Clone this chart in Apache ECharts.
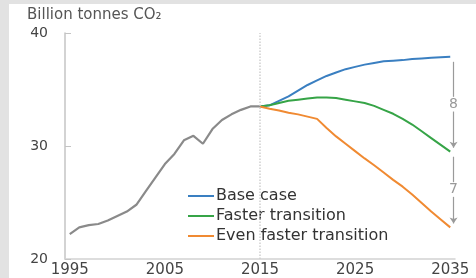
<!DOCTYPE html>
<html>
<head>
<meta charset="utf-8">
<script src="https://cdn.jsdelivr.net/npm/echarts@6/dist/echarts.min.js"></script>
<style>
  html, body { margin: 0; padding: 0; background: #e2e2e2; }
  #chart { position: absolute; left: 9px; top: 4px; width: 467px; height: 274px; background: #fff; }
</style>
</head>
<body>
<div id="chart"></div>
<script>
// Historical emissions 1995-2015 and three outlook scenarios 2015-2035
const histYears = [1995, 1996, 1997, 1998, 1999, 2000, 2001, 2002, 2003, 2004, 2005,
  2006, 2007, 2008, 2009, 2010, 2011, 2012, 2013, 2014, 2015];
const histValues = [22.2, 22.8, 23.0, 23.1, 23.4, 23.8, 24.2, 24.8, 26.0, 27.2, 28.4,
  29.3, 30.5, 30.9, 30.2, 31.5, 32.3, 32.8, 33.2, 33.5, 33.5];

const outlookYears = [2015, 2016, 2017, 2018, 2019, 2020, 2021, 2022, 2023, 2024, 2025,
  2026, 2027, 2028, 2029, 2030, 2031, 2032, 2033, 2034, 2035];
const baseCase = [33.5, 33.6, 34.0, 34.4, 34.9, 35.4, 35.8, 36.2, 36.5, 36.8, 37.0,
  37.2, 37.35, 37.5, 37.55, 37.6, 37.7, 37.75, 37.8, 37.85, 37.9];
const fasterTransition = [33.5, 33.6, 33.8, 34.0, 34.1, 34.2, 34.3, 34.3, 34.25, 34.1, 33.95,
  33.8, 33.55, 33.2, 32.85, 32.4, 31.9, 31.3, 30.7, 30.1, 29.5];
const evenFasterTransition = [33.5, 33.3, 33.15, 32.95, 32.8, 32.6, 32.4, 31.6, 30.85, 30.2, 29.55,
  28.9, 28.3, 27.65, 27.0, 26.4, 25.7, 24.95, 24.2, 23.5, 22.8];

const xLabelYears = [1995, 2005, 2015, 2025, 2035];
const seriesNames = ['Base case', 'Faster transition', 'Even faster transition'];

const FONT = 'DejaVu Sans';
const pairs = (xs, ys) => xs.map((x, i) => [x, ys[i]]);

// gap arrows at the right edge showing the scenario differences
const arrowX = 2035.35;
const endBase = baseCase[baseCase.length - 1];
const endFaster = fasterTransition[fasterTransition.length - 1];
const endEven = evenFasterTransition[evenFasterTransition.length - 1];
const gap = 0.65;

function gapLines(top, bottom) {
  const mid = (top + bottom) / 2;
  return [
    [{ coord: [arrowX, top - 0.45], symbol: 'none' }, { coord: [arrowX, mid + gap], symbol: 'none' }],
    [{ coord: [arrowX, mid - gap], symbol: 'none' }, { coord: [arrowX, bottom + 0.35], symbol: 'arrow' }],
  ];
}
function gapLabel(top, bottom) {
  return { coord: [arrowX, (top + bottom) / 2], value: Math.round(top - bottom) };
}

const chart = echarts.init(document.getElementById('chart'));

chart.setOption({
  animation: false,
  title: {
    text: 'Billion tonnes CO₂',
    left: 18,
    top: 4,
    padding: 0,
    textStyle: { fontFamily: FONT, fontSize: 15, fontWeight: 'normal', color: '#555' },
  },
  legend: {
    data: seriesNames,
    orient: 'vertical',
    left: 174,
    top: 179,
    itemWidth: 26,
    itemHeight: 2,
    itemGap: 4,
    icon: 'rect',
    textStyle: { fontFamily: FONT, fontSize: 16, color: '#333', padding: [0, 0, 0, -3] },
  },
  grid: { left: 56, right: 21, top: 29, bottom: 15, containLabel: false },
  xAxis: {
    type: 'value',
    min: 1994.5,
    max: 2035.5,
    axisLine: { lineStyle: { color: '#d2d2d2', width: 1.5 } },
    axisTick: { show: false },
    splitLine: { show: false },
    axisLabel: {
      customValues: xLabelYears,
      formatter: (v) => String(v),
      margin: 4,
      fontFamily: FONT,
      fontSize: 15,
      color: '#444',
    },
  },
  yAxis: {
    type: 'value',
    min: 20,
    max: 40,
    interval: 10,
    axisLine: { show: true, lineStyle: { color: '#c4c4c4', width: 1.5 } },
    axisTick: { show: true, inside: true, length: 6, lineStyle: { color: '#c4c4c4' } },
    splitLine: { show: false },
    axisLabel: { margin: 17, fontFamily: FONT, fontSize: 14, color: '#444' },
  },
  series: [
    {
      name: 'History',
      type: 'line',
      data: pairs(histYears, histValues),
      showSymbol: false,
      lineStyle: { color: '#8a8a8a', width: 2.2 },
      itemStyle: { color: '#8a8a8a' },
      z: 3,
      markLine: {
        silent: true,
        symbol: 'none',
        label: { show: false },
        lineStyle: { color: '#cfcfcf', type: 'dotted', width: 1.5 },
        data: [{ xAxis: 2015 }],
      },
    },
    {
      name: seriesNames[0],
      type: 'line',
      data: pairs(outlookYears, baseCase),
      showSymbol: false,
      lineStyle: { color: '#3a7fc1', width: 2 },
      itemStyle: { color: '#3a7fc1' },
      markLine: {
        silent: true,
        symbolSize: 6,
        label: { show: false },
        lineStyle: { color: '#9a9a9a', type: 'solid', width: 1.2 },
        data: gapLines(endBase, endFaster),
      },
      markPoint: {
        silent: true,
        symbol: 'circle',
        symbolSize: 0,
        label: { show: true, position: 'inside', fontFamily: FONT, fontSize: 14, color: '#999' },
        data: [gapLabel(endBase, endFaster)],
      },
    },
    {
      name: seriesNames[1],
      type: 'line',
      data: pairs(outlookYears, fasterTransition),
      showSymbol: false,
      lineStyle: { color: '#36a447', width: 2 },
      itemStyle: { color: '#36a447' },
      markLine: {
        silent: true,
        symbolSize: 6,
        label: { show: false },
        lineStyle: { color: '#9a9a9a', type: 'solid', width: 1.2 },
        data: gapLines(endFaster, endEven),
      },
      markPoint: {
        silent: true,
        symbol: 'circle',
        symbolSize: 0,
        label: { show: true, position: 'inside', fontFamily: FONT, fontSize: 14, color: '#999' },
        data: [gapLabel(endFaster, endEven)],
      },
    },
    {
      name: seriesNames[2],
      type: 'line',
      data: pairs(outlookYears, evenFasterTransition),
      showSymbol: false,
      lineStyle: { color: '#f08a32', width: 2 },
      itemStyle: { color: '#f08a32' },
    },
  ],
});
</script>
</body>
</html>
